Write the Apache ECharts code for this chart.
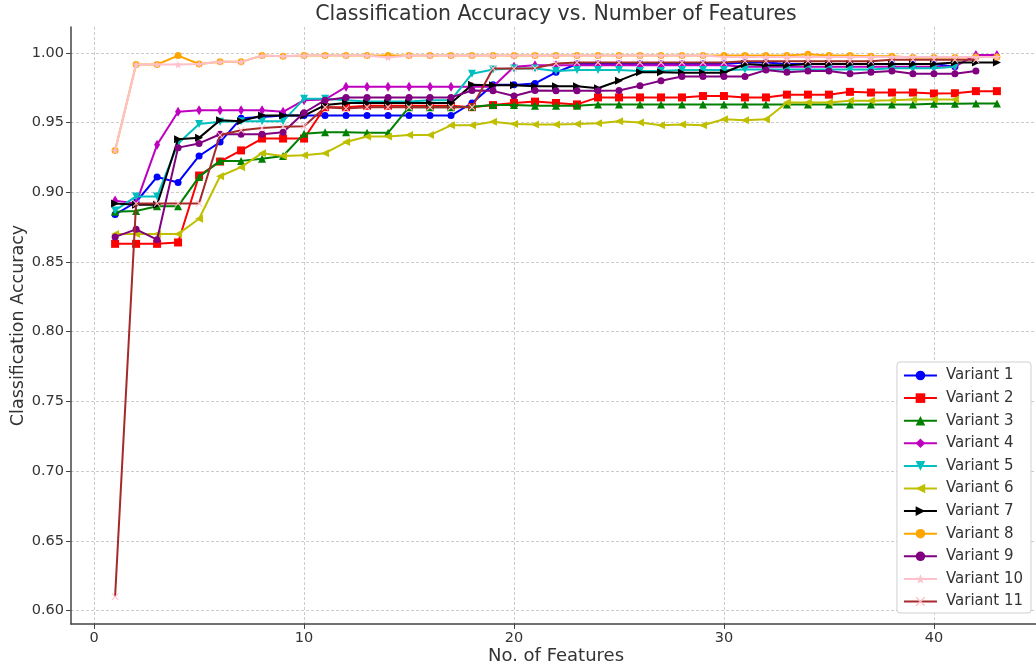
<!DOCTYPE html>
<html>
<head>
<meta charset="utf-8">
<script src="https://cdn.jsdelivr.net/npm/echarts@6/dist/echarts.min.js"></script>
<style>
  html, body { margin: 0; padding: 0; background: #fff; }
  #main { width: 1036px; height: 670px; }
</style>
</head>
<body>
<div id="main"></div>
<script>
// data, x = 1..n features
var names = ['Variant 1', 'Variant 2', 'Variant 3', 'Variant 4', 'Variant 5', 'Variant 6',
             'Variant 7', 'Variant 8', 'Variant 9', 'Variant 10', 'Variant 11'];

var variant1 = [.884,.893,.911,.907,.926,.936,.953,.954,.955,.955,.955,.955,.955,.955,.955,.955,.955,.964,.977,.977,
                .978,.986,.992,.992,.992,.992,.992,.992,.992,.992,.993,.993,.992,.992,.992,.992,.992,.992,.992,.992,.990];
var variant2 = [.863,.863,.863,.864,.912,.922,.930,.9385,.9385,.9385,.961,.961,.962,.962,.962,.962,.962,.961,.9625,.964,
                .965,.964,.963,.968,.968,.968,.968,.968,.969,.969,.968,.968,.970,.970,.970,.972,.9715,.9715,.9715,.9708,
                .971,.9725,.9725];
var variant3 = [.886,.8866,.890,.890,.911,.9225,.9225,.924,.926,.942,.943,.943,.9426,.9426,.961,.961,.961,.9613,.9625,.9625,
                .962,.962,.962,.963,.963,.963,.963,.963,.963,.963,.963,.963,.963,.963,.963,.963,.963,.963,.963,.9635,
                .9635,.9637,.9637];
var variant4 = [.894,.892,.934,.9577,.9588,.9588,.9588,.9588,.9577,.966,.9665,.9756,.9756,.9756,.9756,.9756,.9756,.9756,.9756,.990,
                .991,.991,.991,.991,.991,.991,.991,.991,.991,.991,.990,.990,.990,.990,.990,.990,.990,.990,.990,.990,
                .990,.9985,.9985];
var variant5 = [.887,.897,.897,.935,.949,.9505,.951,.951,.951,.967,.967,.966,.965,.965,.965,.966,.966,.985,.988,.9888,
                .9888,.987,.9876,.9876,.9876,.987,.987,.9876,.9876,.9876,.988,.988,.988,.988,.988,.988,.988,.989,.989,.989,
                .990];
var variant6 = [.870,.870,.870,.870,.881,.9115,.918,.928,.926,.9265,.928,.936,.940,.940,.941,.941,.948,.948,.9505,.949,
                .9486,.9486,.949,.9495,.951,.950,.948,.9486,.948,.9524,.9517,.9524,.9644,.9644,.9644,.9656,.9656,.966,.9665,.9665,
                .9665];
var variant7 = [.892,.891,.891,.938,.939,.9517,.951,.955,.955,.955,.9625,.964,.964,.964,.964,.964,.964,.977,.9768,.9768,
                .976,.976,.976,.9746,.980,.986,.986,.9857,.9857,.9857,.992,.991,.991,.992,.992,.992,.992,.992,.992,.992,
                .993,.993,.993];
var variant8 = [.930,.9916,.9916,.998,.992,.9935,.9935,.998,.9976,.998,.998,.998,.998,.998,.998,.998,.998,.998,.998,.998,
                .998,.998,.998,.998,.998,.998,.998,.998,.998,.998,.998,.998,.998,.999,.998,.998,.9975,.9975,.9967,.9967,
                .9967,.997,.997];
var variant9 = [.868,.8734,.866,.932,.935,.9416,.9416,.9416,.943,.957,.966,.968,.968,.968,.968,.968,.968,.973,.9727,.969,
                .973,.9727,.9727,.9727,.973,.9763,.980,.983,.983,.983,.983,.9876,.986,.987,.987,.985,.986,.987,.985,.985,
                .985,.987];
var variant10 = [.930,.9916,.9916,.9916,.992,.9935,.9935,.998,.9976,.998,.998,.998,.998,.9967,.998,.998,.998,.998,.998,.998,
                 .998,.998,.998,.998,.998,.998,.998,.998,.998,.997,.997,.997,.997,.997,.997,.997,.997,.997,.997,.997,
                 .997,.997,.997];
var variant11 = [.610,.892,.892,.892,.892,.941,.9445,.946,.947,.9474,.961,.960,.961,.961,.961,.961,.961,.961,.9888,.9888,
                 .989,.9923,.993,.993,.993,.993,.993,.993,.993,.993,.994,.994,.994,.994,.994,.994,.994,.995,.995,.995,
                 .995,.995];

var xTicks = [0, 10, 20, 30, 40];
var yTicks = [0.60, 0.65, 0.70, 0.75, 0.80, 0.85, 0.90, 0.95, 1.00];

var allData = [variant1, variant2, variant3, variant4, variant5, variant6,
               variant7, variant8, variant9, variant10, variant11];

var starPath = 'path://M50,0L61,35L98,35L68,57L79,91L50,70L21,91L32,57L2,35L39,35Z';
var crossPath = 'path://M10,0L50,40L90,0L100,10L60,50L100,90L90,100L50,60L10,100L0,90L40,50L0,10Z';
var thinDiamond = 'path://M30,0L60,50L30,100L0,50Z';

var styles = [
    { color: '#0000ff', symbol: 'circle', size: 7 },
    { color: '#ff0000', symbol: 'rect', size: 8 },
    { color: '#008000', symbol: 'triangle', size: 8 },
    { color: '#bf00bf', symbol: thinDiamond, size: [6, 10] },
    { color: '#00bfbf', symbol: 'triangle', size: 8, rotate: 180 },
    { color: '#bfbf00', symbol: 'triangle', size: 8, rotate: 90 },
    { color: '#000000', symbol: 'triangle', size: 8, rotate: -90 },
    { color: '#ffa500', symbol: 'circle', size: 7 },
    { color: '#800080', symbol: 'circle', size: 7 },
    { color: '#ffc0cb', symbol: starPath, size: 8 },
    { color: '#a52a2a', symbol: crossPath, size: 7, symbolColor: '#ffc0cb' }
];

function myChart1() {
    var dom = document.getElementById('main');
    var myChart = echarts.init(dom, null, { renderer: 'canvas' });

    var series = [];
    for (var i = 0; i < names.length; i++) {
        var pts = [];
        for (var j = 0; j < allData[i].length; j++) {
            pts.push([j + 1, allData[i][j]]);
        }
        var st = styles[i];
        series.push({
            name: names[i],
            type: 'line',
            data: pts,
            symbol: st.symbol,
            symbolSize: st.size,
            symbolRotate: st.rotate || 0,
            showAllSymbol: true,
            lineStyle: { color: st.color, width: 2 },
            itemStyle: { color: st.symbolColor || st.color, opacity: 1 },
            emphasis: { disabled: true },
            z: 2 + i
        });
    }

    var option = {
        animation: false,
        backgroundColor: '#fff',
        textStyle: { fontFamily: 'DejaVu Sans' },
        title: {
            text: 'Classification Accuracy vs. Number of Features',
            left: 556,
            textAlign: 'center',
            top: 4,
            padding: 0,
            textStyle: { fontSize: 20.5, fontWeight: 'normal', color: '#333', fontFamily: 'DejaVu Sans' }
        },
        legend: {
            orient: 'vertical',
            right: 5,
            bottom: 57,
            padding: [6, 8, 4, 6],
            backgroundColor: '#fff',
            borderColor: '#d0d0d0',
            borderWidth: 1,
            borderRadius: 3,
            itemWidth: 33,
            itemHeight: 12,
            itemGap: 7.6,
            textStyle: { fontSize: 15, lineHeight: 15, color: '#333', fontFamily: 'DejaVu Sans', padding: [0, 0, 0, 4] },
            data: names
        },
        grid: { left: 71, right: -5, top: 27, bottom: 46, containLabel: false, outerBoundsMode: 'none' },
        xAxis: {
            type: 'value',
            min: -1.1,
            max: 45.1,
            splitNumber: 5,
            name: 'No. of Features',
            nameLocation: 'middle',
            nameGap: 23,
            nameMoveOverlap: false,
            nameTextStyle: { fontSize: 18, color: '#333' },
            axisLine: { onZero: false, lineStyle: { color: '#444', width: 1.5 } },
            axisTick: { show: true, length: 5, lineStyle: { color: '#444' } },
            axisLabel: {
                fontSize: 14.5, color: '#333', margin: 7,
                showMinLabel: false, showMaxLabel: false,
                formatter: function (v) { return xTicks.indexOf(v) >= 0 ? String(v) : ''; }
            },
            splitLine: {
                show: true, showMinLine: false, showMaxLine: false,
                lineStyle: { color: '#cccccc', type: [3, 2], width: 1 }
            }
        },
        yAxis: {
            type: 'value',
            min: 0.5904,
            max: 1.0185,
            splitNumber: 8,
            name: 'Classification Accuracy',
            nameLocation: 'middle',
            nameGap: 44,
            nameMoveOverlap: false,
            nameTextStyle: { fontSize: 17.5, color: '#333' },
            axisLine: { show: true, onZero: false, lineStyle: { color: '#444', width: 1.5 } },
            axisTick: { show: true, length: 5, lineStyle: { color: '#444' } },
            axisLabel: {
                fontSize: 14.5, color: '#333', margin: 7,
                showMinLabel: false, showMaxLabel: false,
                formatter: function (v) {
                    for (var k = 0; k < yTicks.length; k++) {
                        if (Math.abs(yTicks[k] - v) < 1e-6) return yTicks[k].toFixed(2);
                    }
                    return '';
                }
            },
            splitLine: {
                show: true, showMinLine: false, showMaxLine: false,
                lineStyle: { color: '#cccccc', type: [3, 2], width: 1 }
            }
        },
        series: series
    };

    if (option && typeof option === 'object') {
        myChart.setOption(option, true);
    }
}

myChart1();
</script>
</body>
</html>
